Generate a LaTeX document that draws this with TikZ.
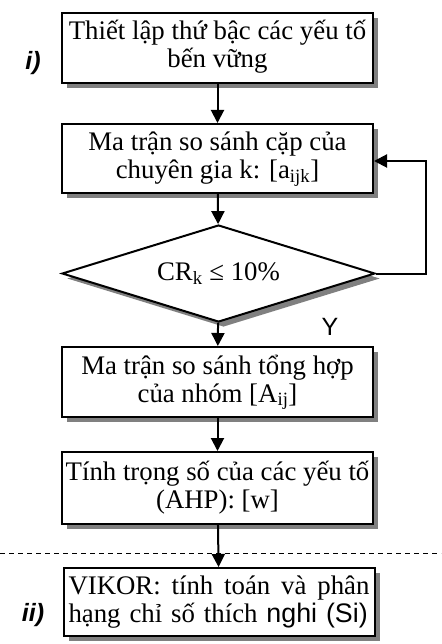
\documentclass[tikz,border=0pt]{standalone}
\usepackage{fontspec}
\setmainfont{Liberation Serif}
\newfontfamily\arial{Liberation Sans}
\usetikzlibrary{shapes.geometric,shadows,arrows.meta}
\newcommand\boxfont{\fontsize{26.8}{28}\selectfont\lineskiplimit=-100pt\relax}
% struts that fix the height of the first and the depth of the last line
\newcommand\topstrut{\rule{0pt}{25.5pt}}
\newcommand\botstrut{\rule[-13.5pt]{0pt}{13.5pt}}
\begin{document}
\begin{tikzpicture}[x=1pt,y=-1pt,
  shadowed/.style={drop shadow={shadow xshift=5pt,shadow yshift=-5pt,fill=black!50,opacity=1}},
  box/.style={draw,line width=2pt,fill=white,minimum width=311pt,inner sep=0pt,
    align=center,font=\boxfont,shadowed},
  decision/.style={diamond,draw,line width=2pt,fill=white,minimum width=313pt,
    minimum height=97pt,inner sep=0pt,aspect=3.2,font=\boxfont,shadowed},
  flow/.style={line width=2pt,-{Triangle[width=13pt,length=13pt]}},
  part/.style={font=\arial\bfseries\itshape\fontsize{25}{26}\selectfont},
]
\useasboundingbox (0,0) rectangle (441,644);

% process boxes
\node[box,minimum height=70pt] (n1) at (217.5,48)
  {\topstrut Thiết lập thứ bậc các yếu tố\\bến vững\botstrut};
\node[box,minimum height=69pt] (n2) at (217.5,158.5)
  {\topstrut Ma trận so sánh cặp của\\chuyên gia k: [a\textsubscript{ijk}]\botstrut};
\node[decision] (dia) at (218.5,273.5) {CR\textsubscript{k} ≤ 10\%};
\node[box,minimum height=70pt] (n3) at (217.5,382)
  {\topstrut Ma trận so sánh tổng hợp\\của nhóm [A\textsubscript{ij}]\botstrut};
\node[box,minimum height=72pt] (n4) at (217.5,488)
  {\topstrut Tính trọng số của các yếu tố\\(AHP): [w]\botstrut};
\node[box,minimum height=68pt,text width=301pt,align=left] (n5) at (219,602)
  {\hbox to 301pt{\topstrut VIKOR:\hfill tính\hfill toán\hfill và\hfill phân}\\
   \hbox{hạng chỉ số thích {\arial nghi (Si)}\botstrut}};

% labels
\node[font=\arial\fontsize{25}{26}\selectfont] (yes) at (330,327) {Y};
\node[part] (p1) at (33,63) {i)};
\node[part] (p2) at (33,615) {ii)};

% separator between the two stages
\coordinate (dl) at (0,553);
\coordinate (dr) at (441,553);
\draw[line width=0.8pt,dash pattern=on 5pt off 4pt] (dl) -- (dr);

% main flow
\draw[flow] (n1) -- (n2);
\draw[flow] (n2) -- (dia);
\draw[flow] (dia) -- (n3);
\draw[flow] (n3) -- (n4);
\draw[flow] (n4) -- (n5);

% feedback loop
\coordinate (fb) at (426,161);
\draw[flow] (dia.east) -| (fb) -- (n2.east |- fb);
\end{tikzpicture}
\end{document}
